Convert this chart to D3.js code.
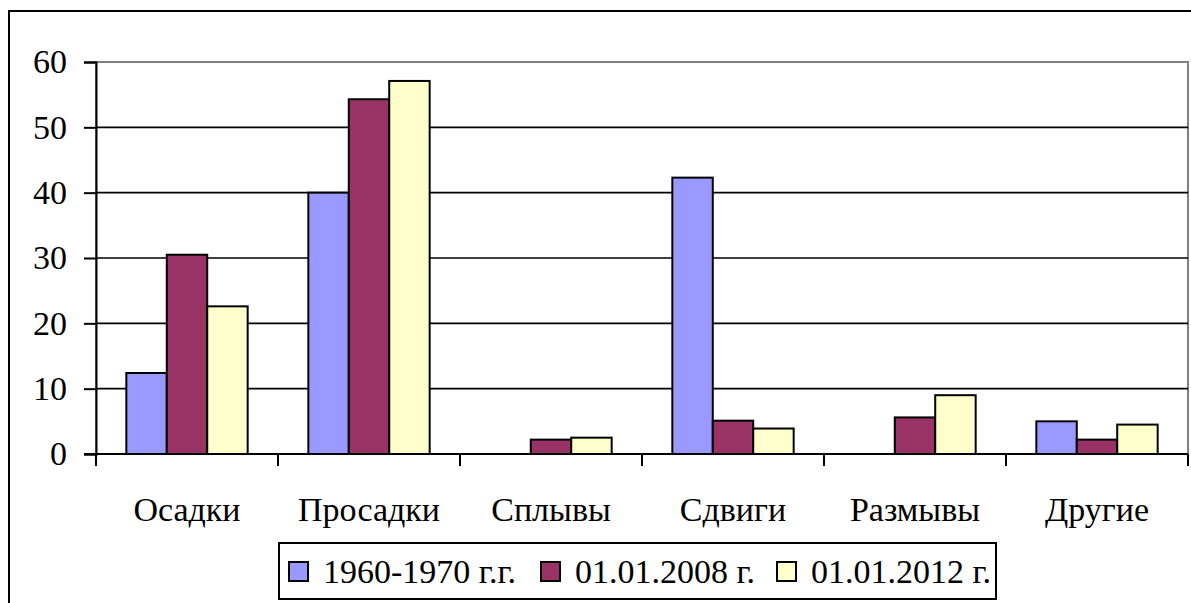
<!DOCTYPE html>
<html>
<head>
<meta charset="utf-8">
<script src="https://cdn.jsdelivr.net/npm/d3@7"></script>
<style>
  body { margin: 0; background: #fff; }
  svg text { font-family: 'Liberation Serif', 'Tinos', 'DejaVu Serif', serif; fill: #000; }
</style>
</head>
<body>
<div id="chart"></div>
<script>
// categories and series
let categories = ["Осадки", "Просадки", "Сплывы", "Сдвиги", "Размывы", "Другие"];
let seriesNames = ["1960-1970 г.г.", "01.01.2008 г.", "01.01.2012 г."];
let seriesColors = ["#9999FF", "#993366", "#FFFFCC"];
let values1960 = [12.4, 40, 0, 42.3, 0, 5.0];
let values2008 = [30.5, 54.3, 2.2, 5.1, 5.6, 2.2];
let values2012 = [22.6, 57.1, 2.5, 3.9, 9.0, 4.5];
let yTicks = [0, 10, 20, 30, 40, 50, 60];

let width = 1191;
let height = 603;
let plotLeft = 96, plotRight = 1188, plotTop = 62, plotBottom = 454;
let serif = "'Liberation Serif', 'Tinos', 'DejaVu Serif', serif";

let svg = d3.select("#chart").append("svg")
  .attr("width", width)
  .attr("height", height)
  .attr("font-family", serif);

// outer chart frame
svg.append("rect")
  .attr("x", 9).attr("y", 11)
  .attr("width", width).attr("height", height)
  .attr("fill", "none")
  .attr("stroke", "#000")
  .attr("stroke-width", 2);

let x0 = d3.scaleBand()
  .domain(categories)
  .range([plotLeft, plotRight]);

let bw = x0.bandwidth();
let x1 = d3.scaleBand()
  .domain(seriesNames)
  .range([bw / 6, bw * 5 / 6]);

let y = d3.scaleLinear()
  .domain([0, 60])
  .range([plotBottom, plotTop]);

// plot area border
svg.append("rect")
  .attr("x", plotLeft).attr("y", plotTop)
  .attr("width", plotRight - plotLeft).attr("height", plotBottom - plotTop)
  .attr("fill", "none")
  .attr("stroke", "#808080")
  .attr("stroke-width", 2);

// gridlines
svg.selectAll("grid")
  .data(yTicks.filter(d => d > 0 && d < 60))
  .enter()
  .append("line")
  .attr("x1", plotLeft).attr("x2", plotRight)
  .attr("y1", d => y(d)).attr("y2", d => y(d))
  .attr("stroke", "#000")
  .attr("stroke-width", 1.6);

// y axis
let yAxis = d3.axisLeft(y)
  .tickValues(yTicks)
  .tickSize(12)
  .tickPadding(17)
  .tickFormat(d3.format("d"));

let gy = svg.append("g")
  .attr("transform", `translate(${plotLeft},0)`)
  .call(yAxis)
  .attr("font-family", serif)
  .attr("font-size", 34);
gy.select(".domain").attr("stroke", "#000").attr("stroke-width", 2);
gy.selectAll(".tick line").attr("stroke", "#000").attr("stroke-width", 2);
gy.selectAll(".tick text")
  .style("font-family", serif)
  .style("font-size", "34px")
  .attr("fill", "#000");

// bars
let seriesValues = [values1960, values2008, values2012];
let groups = svg.selectAll("group")
  .data(categories)
  .enter()
  .append("g")
  .attr("transform", d => `translate(${x0(d)},0)`);

groups.selectAll("rect")
  .data((d, i) => seriesNames.map((s, j) => ({ s: s, v: seriesValues[j][i], c: seriesColors[j] })))
  .enter()
  .filter(d => d.v > 0)
  .append("rect")
  .attr("x", d => x1(d.s))
  .attr("y", d => y(d.v))
  .attr("width", x1.bandwidth())
  .attr("height", d => y(0) - y(d.v))
  .attr("fill", d => d.c)
  .attr("stroke", "#000")
  .attr("stroke-width", 2);

// x axis
let gx = svg.append("g")
  .attr("transform", `translate(0,${plotBottom})`);
gx.append("line")
  .attr("x1", plotLeft - 12).attr("x2", plotRight)
  .attr("stroke", "#000").attr("stroke-width", 2);
let tickPos = categories.map(c => x0(c)).concat([plotRight]);
gx.selectAll("xtick")
  .data(tickPos)
  .enter()
  .append("line")
  .attr("x1", d => d).attr("x2", d => d)
  .attr("y1", 0).attr("y2", 12)
  .attr("stroke", "#000").attr("stroke-width", 2);
gx.selectAll("xlabel")
  .data(categories)
  .enter()
  .append("text")
  .attr("x", d => x0(d) + bw / 2)
  .attr("y", 67)
  .attr("text-anchor", "middle")
  .style("font-family", serif)
  .style("font-size", "34px")
  .text(d => d);

// legend
let legend = svg.append("g");
legend.append("rect")
  .attr("x", 279).attr("y", 543)
  .attr("width", 717).attr("height", 56)
  .attr("fill", "#fff")
  .attr("stroke", "#000")
  .attr("stroke-width", 2);

let legendX = [289, 541, 777];
legend.selectAll("lsq")
  .data(seriesNames)
  .enter()
  .append("rect")
  .attr("x", (d, i) => legendX[i])
  .attr("y", 562)
  .attr("width", 19).attr("height", 19)
  .attr("fill", (d, i) => seriesColors[i])
  .attr("stroke", "#000")
  .attr("stroke-width", 2);
legend.selectAll("ltext")
  .data(seriesNames)
  .enter()
  .append("text")
  .attr("x", (d, i) => legendX[i] + 34)
  .attr("y", 583)
  .style("font-family", serif)
  .style("font-size", "34px")
  .text(d => d);
</script>
</body>
</html>
